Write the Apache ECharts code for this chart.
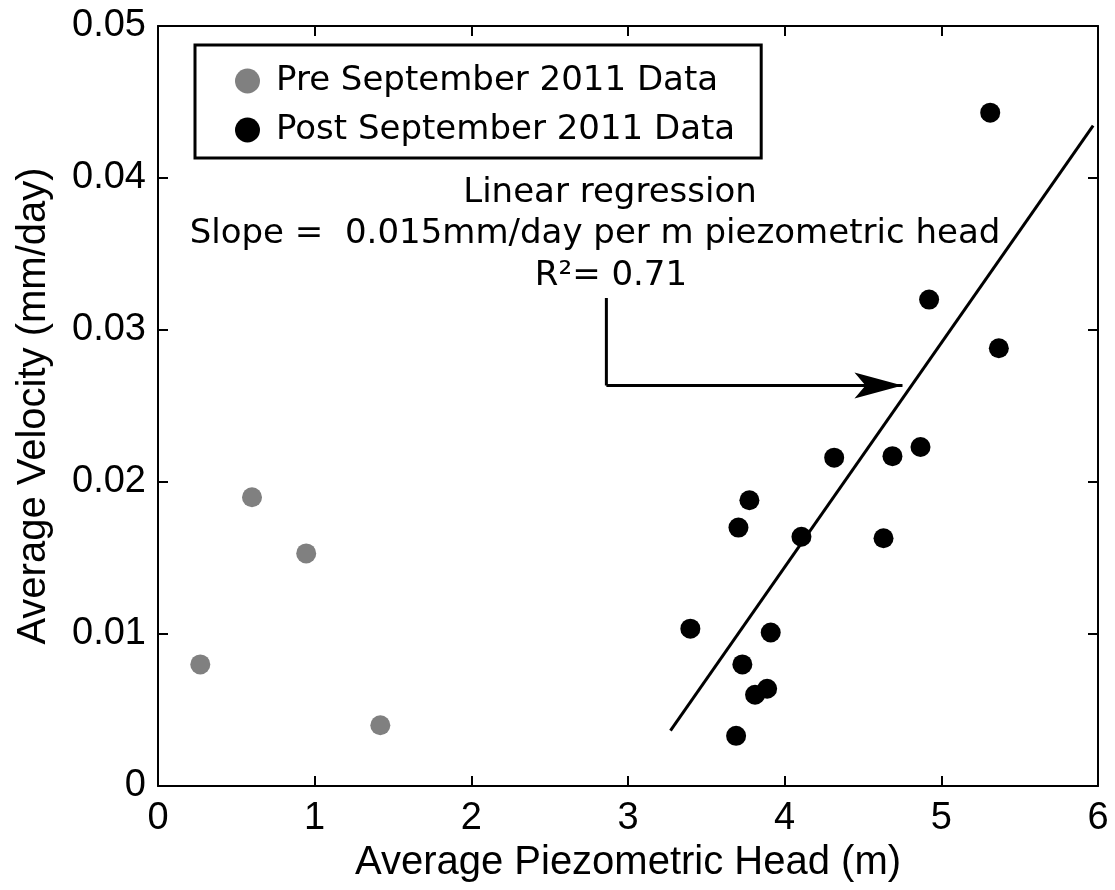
<!DOCTYPE html>
<html>
<head>
<meta charset="utf-8">
<script src="https://cdn.jsdelivr.net/npm/echarts@6/dist/echarts.min.js"></script>
<style>
html,body{margin:0;padding:0;background:#fff;}
#chart{width:1115px;height:890px;}
</style>
</head>
<body>
<div id="chart"></div>
<script>
// ---- data ----
const preX = [0.27, 0.60, 0.946, 1.419];
const preY = [0.0080, 0.0190, 0.0153, 0.0040];
const postX = [3.398, 3.705, 3.775, 4.107, 4.316, 4.688, 4.867, 4.631, 3.911, 3.730, 3.888, 3.811, 3.690, 5.312, 4.922, 5.367];
const postY = [0.01035, 0.0170, 0.0188, 0.0164, 0.0216, 0.0217, 0.0223, 0.0163, 0.0101, 0.0080, 0.0064, 0.0060, 0.0033, 0.0443, 0.0320, 0.0288];
const regX = [3.271, 5.969];
const regY = [0.00364, 0.04344];
const arrowX = [2.862, 2.862, 4.752];
const arrowY = [0.0321, 0.02635, 0.02635];
const xTickLabels = ['0', '1', '2', '3', '4', '5', '6'];
const yTickLabels = ['0', '0.01', '0.02', '0.03', '0.04', '0.05'];
const seriesNames = ['Pre September 2011 Data', 'Post September 2011 Data'];
const annotation = ['Linear regression', 'Slope =  0.015mm/day per m piezometric head', 'R\u00b2= 0.71'];

const zip = (a, b) => a.map((v, i) => [v, b[i]]);
const AX = 'Liberation Sans, Arial, sans-serif';
const TX = 'DejaVu Sans, Verdana, sans-serif';
const ARROW_HEAD = 'path://M13,0 L26,48 L13,37 L0,48 Z';

const chart = echarts.init(document.getElementById('chart'), null, {renderer: 'canvas'});

function xAxisCfg(pos, labels) {
  return {
    type: 'value', position: pos, min: 0, max: 6, interval: 1,
    axisLine: {show: true, onZero: false, lineStyle: {color: '#000', width: 2}},
    axisTick: {show: true, inside: true, length: 10, lineStyle: {color: '#000', width: 2}},
    splitLine: {show: false},
    axisLabel: {show: labels, margin: 14, color: '#000', fontFamily: AX, fontSize: 38,
      formatter: v => xTickLabels[Math.round(v)]},
    name: labels ? 'Average Piezometric Head (m)' : '',
    nameLocation: 'middle', nameGap: 53,
    nameTextStyle: {color: '#000', fontFamily: AX, fontSize: 40}
  };
}
function yAxisCfg(pos, labels) {
  return {
    type: 'value', position: pos, min: 0, max: 0.05, interval: 0.01,
    axisLine: {show: true, onZero: false, lineStyle: {color: '#000', width: 2}},
    axisTick: {show: true, inside: true, length: 10, lineStyle: {color: '#000', width: 2}},
    splitLine: {show: false},
    axisLabel: {show: labels, margin: 12, color: '#000', fontFamily: AX, fontSize: 38,
      formatter: v => yTickLabels[Math.round(v / 0.01)]},
    name: labels ? 'Average Velocity (mm/day)' : '',
    nameLocation: 'middle', nameGap: 104,
    nameTextStyle: {color: '#000', fontFamily: AX, fontSize: 40}
  };
}

const option = {
  backgroundColor: '#fff',
  animation: false,
  grid: {left: 158, right: 17, top: 26, bottom: 104, containLabel: false},
  xAxis: [xAxisCfg('bottom', true), xAxisCfg('top', false)],
  yAxis: [yAxisCfg('left', true), yAxisCfg('right', false)],
  legend: {
    orient: 'vertical', left: 195, top: 45,
    data: seriesNames,
    icon: 'circle', itemWidth: 25, itemHeight: 25, itemGap: 15,
    borderColor: '#000', borderWidth: 3, backgroundColor: '#fff',
    padding: [19, 26, 11, 40],
    textStyle: {color: '#000', fontFamily: TX, fontSize: 34, lineHeight: 32, padding: [0, 0, 0, 11]}
  },
  series: [
    {
      name: 'regression', type: 'line', data: zip(regX, regY),
      symbol: 'none', lineStyle: {color: '#000', width: 3}, z: 2
    },
    {
      name: 'arrowStem', type: 'line', data: zip(arrowX.slice(0, 2), arrowY.slice(0, 2)),
      symbol: 'none', lineStyle: {color: '#000', width: 3}, z: 2,
      markLine: {
        silent: true, animation: false,
        label: {show: false},
        lineStyle: {color: '#000', width: 3, type: 'solid'},
        emphasis: {disabled: true},
        data: [[
          {coord: [arrowX[1], arrowY[1]], symbol: 'none'},
          {coord: [arrowX[2], arrowY[2]], symbol: ARROW_HEAD, symbolSize: [26, 48], symbolOffset: [0, 24]}
        ]]
      }
    },
    {
      name: seriesNames[0], type: 'scatter', data: zip(preX, preY),
      symbol: 'circle', symbolSize: 20, itemStyle: {color: '#808080', opacity: 1}, z: 3
    },
    {
      name: seriesNames[1], type: 'scatter', data: zip(postX, postY),
      symbol: 'circle', symbolSize: 20, itemStyle: {color: '#000000', opacity: 1}, z: 3
    }
  ],
  graphic: [
    {type: 'text', x: 610, y: 193, style: {text: annotation[0], font: '34px ' + TX, fill: '#000', textAlign: 'center', textVerticalAlign: 'middle'}},
    {type: 'text', x: 595, y: 234, style: {text: annotation[1], font: '34px ' + TX, fill: '#000', textAlign: 'center', textVerticalAlign: 'middle'}},
    {type: 'text', x: 611, y: 276, style: {text: annotation[2], font: '34px ' + TX, fill: '#000', textAlign: 'center', textVerticalAlign: 'middle'}}
  ]
};
chart.setOption(option);
</script>
</body>
</html>
